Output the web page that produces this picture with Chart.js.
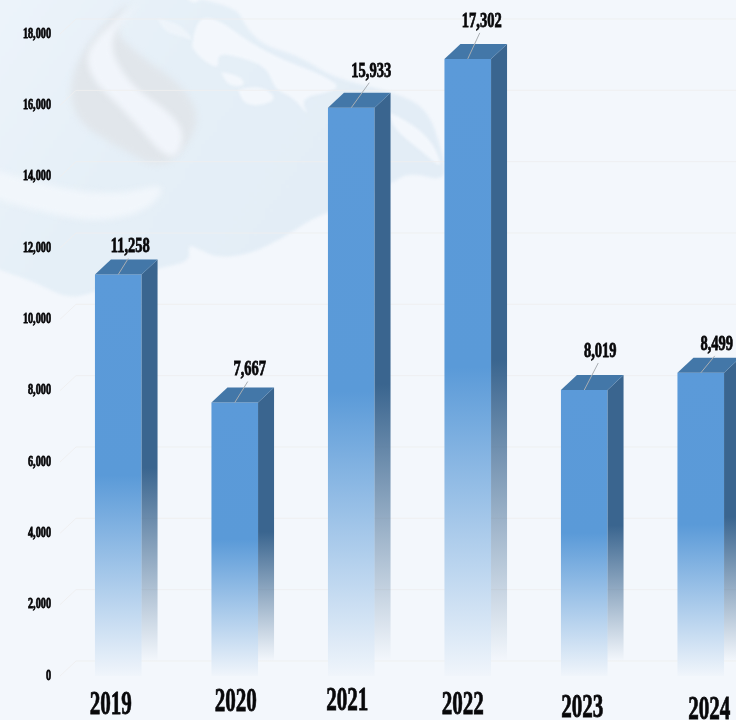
<!DOCTYPE html>
<html>
<head>
<meta charset="utf-8">
<title>Chart</title>
<script src="https://cdn.jsdelivr.net/npm/chart.js@4"></script>
<style>
html, body { margin: 0; width: 736px; height: 720px; overflow: hidden; background: #f3f7fc; }
canvas { display: block; filter: blur(0.55px); }
</style>
</head>
<body>
<canvas id="chart" width="800" height="720"></canvas>
<script>
const years = ['2019', '2020', '2021', '2022', '2023', '2024'];
const values = [11258, 7667, 15933, 17302, 8019, 8499];
const yTicks = [0, 2000, 4000, 6000, 8000, 10000, 12000, 14000, 16000, 18000];

// the source picture is a bit wonky, labels don't sit on a straight line
const yearShiftX = [-7.5, 1, -4, -5, -2, 8.5];
const yearY = [703, 700, 699, 703, 706, 708];
const valueShiftX = [12, 15, 20, 14, 16, 16];
const valueShiftY = [-29, -34, -38, -39, -40, -30];

const depthX = 16;
const depthY = 15;
const bg = '#f3f7fc';

function shape(ctx, color, pts) {
    ctx.fillStyle = color;
    ctx.beginPath();
    ctx.moveTo(pts[0][0], pts[0][1]);
    for (let i = 1; i < pts.length; i++) {
        const a = pts[i];
        const b = pts[i + 1] || pts[0];
        ctx.quadraticCurveTo(a[0], a[1], (a[0] + b[0]) / 2, (a[1] + b[1]) / 2);
    }
    ctx.closePath();
    ctx.fill();
}

function narrowText(ctx, str, x, y, size, sx, align) {
    ctx.save();
    ctx.translate(x, y + size * 0.07);
    ctx.scale(sx, 1);
    ctx.font = 'bold ' + size + 'px "Liberation Serif"';
    ctx.textAlign = align;
    ctx.textBaseline = 'middle';
    ctx.fillStyle = '#08080a';
    ctx.strokeStyle = '#08080a';
    ctx.lineWidth = 0.8;
    ctx.fillText(str, 0, 0);
    ctx.strokeText(str, 0, 0);
    ctx.restore();
}

const backdrop = {
    id: 'backdrop',
    beforeDraw(chart) {
        const ctx = chart.ctx;
        ctx.save();
        ctx.fillStyle = bg;
        ctx.fillRect(0, 0, chart.width, chart.height);

        // map shape
        ctx.filter = 'blur(1.5px)';
        const sea = ctx.createLinearGradient(0, 0, 300, 200);
        sea.addColorStop(0, '#ecf3fa');
        sea.addColorStop(0.5, '#e5eff7');
        sea.addColorStop(1, '#e3edf6');
        shape(ctx, sea, [[-20, -20], [228, -10], [253, 42], [300, 56], [333, 78], [393, 92], [427, 108], [442, 150], [447, 182],
            [410, 172], [390, 184], [345, 205], [327, 213], [310, 220], [283, 238], [250, 254], [217, 258], [197, 248], [188, 245],
            [190, 262], [157, 268], [105, 288], [70, 300], [35, 282], [0, 270], [-20, 262]]);

        // pale land on the map
        shape(ctx, bg, [[192, 47], [195, 18], [217, 18], [250, 43], [283, 60], [320, 74], [340, 86], [330, 92], [300, 98], [310, 118],
            [293, 97], [275, 90], [267, 67], [240, 57], [217, 53], [219, 70], [200, 58]]);
        shape(ctx, bg, [[238, 90], [258, 84], [278, 98], [262, 106], [244, 104]]);
        shape(ctx, bg, [[221, 72], [240, 75], [246, 86], [228, 86]]);
        shape(ctx, bg, [[180, -8], [205, -8], [195, 6]]);
        shape(ctx, '#eef4fa', [[157, 18], [178, 22], [196, 42], [180, 36], [165, 32]]);
        shape(ctx, bg, [[388, 112], [425, 128], [446, 172], [420, 150], [395, 130]]);

        // logo
        ctx.filter = 'blur(3px)';
        shape(ctx, '#e1e6eb', [[128, 2], [95, 30], [68, 80], [76, 122], [118, 147], [165, 172], [202, 125], [186, 88],
            [135, 52], [113, 30]]);
        shape(ctx, '#f1f5fb', [[138, 4], [90, 38], [86, 74], [126, 112], [172, 166], [186, 135], [170, 112], [128, 84],
            [106, 40]]);
        shape(ctx, '#f1f6fb', [[-20, 165], [50, 188], [120, 195], [168, 182], [150, 210], [100, 222], [50, 214], [-20, 195]]);
        ctx.restore();
    },
    beforeDatasetsDraw(chart) {
        const ctx = chart.ctx;
        const left = chart.chartArea.left;
        ctx.save();
        ctx.strokeStyle = 'rgba(238, 238, 240, 0.9)';
        ctx.lineWidth = 1;
        yTicks.forEach(t => {
            const y = chart.scales.y.getPixelForValue(t);
            ctx.beginPath();
            ctx.moveTo(left, y);
            ctx.lineTo(left + depthX, y - depthY);
            ctx.lineTo(chart.width, y - depthY);
            ctx.stroke();
        });
        ctx.restore();
    },
    afterDatasetsDraw(chart) {
        const ctx = chart.ctx;
        const bars = chart.getDatasetMeta(0).data;
        const yScale = chart.scales.y;

        bars.forEach((bar, i) => {
            const half = bar.width / 2;
            const r = bar.x + half;
            const l = bar.x - half;
            const top = bar.y;
            const base = bar.base;

            // side face
            const side = ctx.createLinearGradient(0, top, 0, base - depthY);
            side.addColorStop(0, '#3a658f');
            side.addColorStop(0.5, '#3a658f');
            side.addColorStop(1, 'rgba(58, 101, 143, 0)');
            ctx.fillStyle = side;
            ctx.beginPath();
            ctx.moveTo(r, top);
            ctx.lineTo(r + depthX, top - depthY);
            ctx.lineTo(r + depthX, base - depthY);
            ctx.lineTo(r, base);
            ctx.closePath();
            ctx.fill();

            // top face
            ctx.fillStyle = '#4377a8';
            ctx.beginPath();
            ctx.moveTo(l, top);
            ctx.lineTo(l + depthX, top - depthY);
            ctx.lineTo(r + depthX, top - depthY);
            ctx.lineTo(r, top);
            ctx.closePath();
            ctx.fill();

            // leader up to the value
            const tx = bar.x + valueShiftX[i];
            const ty = top + valueShiftY[i];
            ctx.strokeStyle = '#a9aeb3';
            ctx.lineWidth = 1;
            ctx.beginPath();
            ctx.moveTo(bar.x, top);
            ctx.lineTo(tx - 2, ty + 13);
            ctx.stroke();

            narrowText(ctx, values[i].toLocaleString('en-US'), tx, ty, 21, 0.69, 'center');
            narrowText(ctx, years[i], bar.x + yearShiftX[i], yearY[i], 33, 0.64, 'center');
        });

        yTicks.forEach(t => {
            narrowText(ctx, t.toLocaleString('en-US'), 51, yScale.getPixelForValue(t) - 1, 14, 0.73, 'right');
        });
    }
};

const ctx = document.querySelector('#chart').getContext('2d');

const chart = new Chart(ctx, {
    type: 'bar',
    data: {
        labels: years,
        datasets: [{
            label: 'Value',
            data: values,
            barPercentage: 0.4,
            categoryPercentage: 1,
            backgroundColor: (context) => {
                const c = context.chart;
                if (!c.chartArea || context.dataIndex === undefined) {
                    return '#5a9ad8';
                }
                const top = c.scales.y.getPixelForValue(values[context.dataIndex]);
                const base = c.scales.y.getPixelForValue(0);
                const g = c.ctx.createLinearGradient(0, top, 0, base);
                g.addColorStop(0, '#5b9ad9');
                g.addColorStop(0.5, '#5a9ad8');
                g.addColorStop(1, '#f0f5fb');
                return g;
            },
        }],
    },
    options: {
        responsive: false,
        animation: false,
        layout: {
            padding: { left: 60, right: 41, top: 34, bottom: 44 },
        },
        scales: {
            x: { display: false },
            y: { display: false, min: 0, max: 18000 },
        },
        plugins: {
            legend: { display: false },
            title: { display: false },
            tooltip: { enabled: false },
        },
    },
    plugins: [backdrop],
});
</script>
</body>
</html>
